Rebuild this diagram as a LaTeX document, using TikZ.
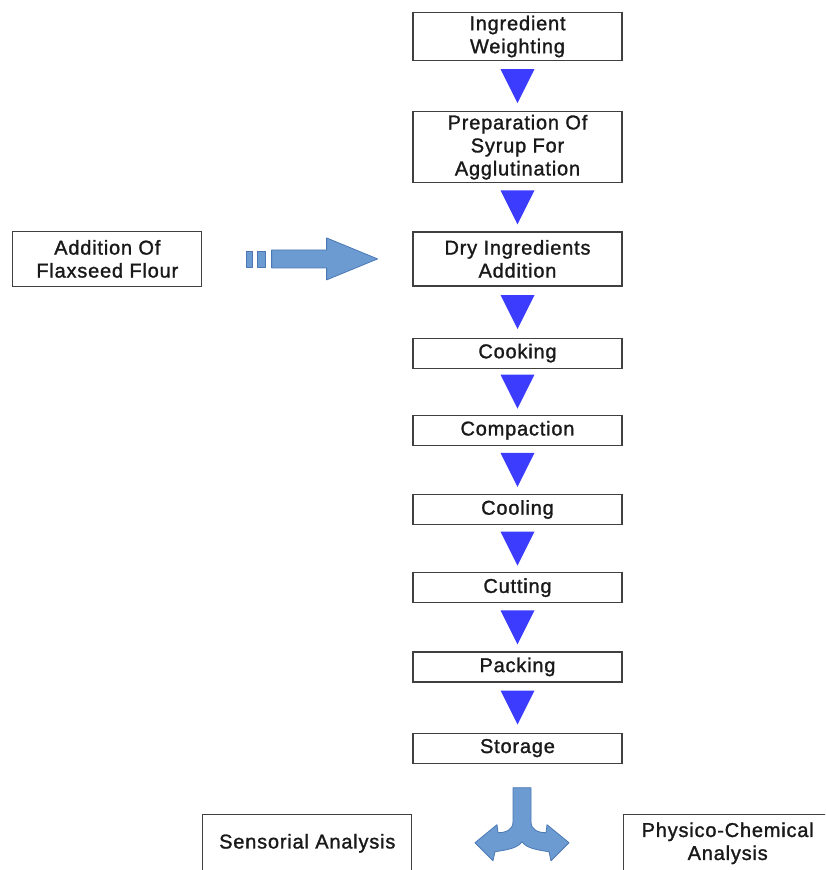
\documentclass[tikz,border=0pt]{standalone}
\usepackage{fontspec}
\setmainfont{Liberation Sans}[LetterSpace=4, FakeBold=1.3]
\usetikzlibrary{positioning}
\definecolor{tribl}{RGB}{60,60,255}
\definecolor{arrfill}{RGB}{108,155,210}
\definecolor{arrline}{RGB}{75,120,180}
\tikzset{
x=1pt, y=-1pt, % pixel-like coordinates, y going down
node distance=48pt, % gap between two steps of the process
stepbox/.style={draw=black!75, line width=1.2pt, fill=white, minimum width=209pt, minimum height=30pt, align=center, inner sep=2pt, font=\fontsize{20}{23}\selectfont, text=black!90}, % every process box
downtri/.style={fill=tribl}, % the blue triangles between the steps
bigarrow/.style={fill=arrfill, draw=arrline, line width=0.8pt, line join=round}, % the wide block arrows
}

\begin{document}
\begin{tikzpicture}

            \useasboundingbox (0,0) rectangle (825,870);
            \clip (0,0) rectangle (825,870);

            \node[stepbox, minimum height=48pt] (weigh) at (517.5,36.5) {Ingredient\\Weighting};
            \node[stepbox, minimum height=71pt, below=50pt of weigh] (syrup) {Preparation Of\\Syrup For\\Agglutination};
            \node[stepbox, minimum height=54pt, below=of syrup] (dry) {Dry Ingredients\\Addition};
            \node[stepbox, below=51pt of dry] (cook) {Cooking};
            \node[stepbox, below=46pt of cook] (compact) {Compaction};
            \node[stepbox, below=of compact] (cool) {Cooling};
            \node[stepbox, below=47pt of cool] (cut) {Cutting};
            \node[stepbox, below=48pt of cut] (pack) {Packing};
            \node[stepbox, below=50pt of pack] (storage) {Storage};

            \node[stepbox, minimum width=189pt, minimum height=55pt, left=210pt of dry] (flax) {Addition Of\\Flaxseed Flour};

            \node[stepbox, minimum height=58pt, below left=50pt and 0pt of storage.south west] (sensory) {Sensorial Analysis};
            \node[stepbox, minimum height=58pt, below right=50pt and 0pt of storage.south east] (physchem) {Physico-Chemical\\Analysis};

            % blue triangles between the steps
            \foreach \a/\b in {weigh/syrup, syrup/dry, dry/cook, cook/compact, compact/cool, cool/cut, cut/pack, pack/storage}{
                \path (\a.south) -- (\b.north) coordinate[midway] (mid);
                \fill[downtri, shift={(mid)}] (-17,-17) -- (17,-17) -- (0,17) -- cycle;
            }

            % flaxseed flour goes in with the dry ingredients
            \path (flax.east) -- (dry.west) coordinate[pos=0.52] (feed);
            \filldraw[bigarrow, shift={(feed)}] (-40,-9) -- (15,-9) -- (15,-21) -- (66,0) -- (15,21) -- (15,9) -- (-40,9) -- cycle;
            \filldraw[bigarrow, shift={(feed)}] (-65,-8) rectangle (-59,8);
            \filldraw[bigarrow, shift={(feed)}] (-54,-8) rectangle (-46,8);

            % storage splits into the two analyses
            \coordinate[below=24pt of storage, xshift=4.5pt] (split);
            \filldraw[bigarrow, shift={(split)}] (-9,0) -- (9,0) -- (9,34)
                .. controls (9,42) and (16,45) .. (24,45) -- (25,37) -- (47,55) -- (29,73) -- (27,64)
                .. controls (13,62) and (4,60) .. (0,54)
                .. controls (-4,60) and (-13,62) .. (-27,64) -- (-29,73) -- (-47,55) -- (-25,37) -- (-24,45)
                .. controls (-16,45) and (-9,42) .. (-9,34) -- cycle;

        \end{tikzpicture}
\end{document}
